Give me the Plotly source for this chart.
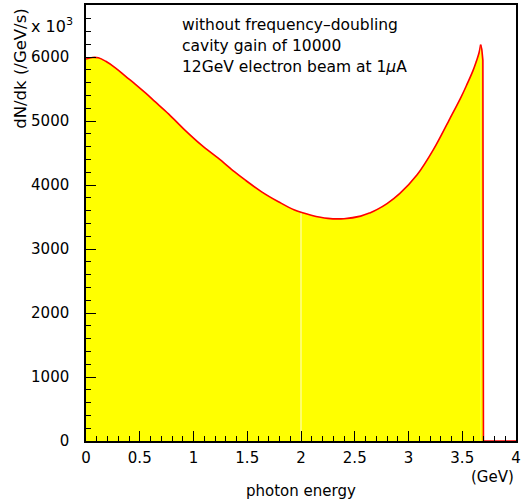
import numpy as np
import plotly.graph_objects as go

# photon energy (GeV) and dN/dk (/GeV/s, in units of 10^3) - smooth part up to the peak
energy = [0.0, 0.06, 0.115, 0.184, 0.276, 0.369, 0.46, 0.553, 0.645, 0.77, 0.92, 1.075,
          1.23, 1.38, 1.48, 1.634, 1.79, 1.94, 2.095, 2.25, 2.40, 2.555, 2.64, 2.71,
          2.80, 2.92, 3.08, 3.23, 3.385, 3.49, 3.54, 3.60, 3.63, 3.655, 3.671]
dndk = [5970, 5995, 5990, 5935, 5830, 5700, 5575, 5440, 5300, 5110, 4860, 4625,
        4420, 4210, 4080, 3895, 3740, 3610, 3530, 3480, 3475, 3515, 3565, 3620,
        3710, 3870, 4160, 4550, 5040, 5380, 5560, 5790, 5930, 6060, 6195]
# sharp cut-off after the peak
edge_energy = [3.671, 3.682, 3.692, 3.697, 3.8, 3.9, 4.0]
edge_dndk = [6195, 6120, 5950, 0, 0, 0, 0]

x_ticks = [0, 0.5, 1, 1.5, 2, 2.5, 3, 3.5, 4]
x_ticklabels = ["0", "0.5", "1", "1.5", "2", "2.5", "3", "3.5", "4"]
y_ticks = [0, 1000, 2000, 3000, 4000, 5000, 6000]
y_ticklabels = ["0", "1000", "2000", "3000", "4000", "5000", "6000"]

info_lines = ["without frequency\u2013doubling", "cavity gain of 10000",
              "12GeV electron beam at 1<i>\u03bc</i>A"]

FONT = "DejaVu Sans, Verdana, sans-serif"
W, H = 524, 504
ML, MR, MT, MB = 86, 3, 5, 63
PW, PH = W - ML - MR, H - MT - MB

def px2paper_x(px):
    return (px - ML) / PW

def px2paper_y(py):
    return (H - MB - py) / PH

fig = go.Figure()
for xs, ys, shape in [(energy, dndk, "spline"), (edge_energy, edge_dndk, "linear")]:
    fig.add_trace(go.Scatter(x=xs, y=ys, mode="lines", fill="tozeroy",
                             fillcolor="#ffff00",
                             line=dict(color="#ff0000", width=1.6, shape=shape, smoothing=1),
                             hoverinfo="skip", showlegend=False))
# faint seam in the fill at E = 2
e_seam = 2.0
fig.add_trace(go.Scatter(x=[e_seam, e_seam], y=[0, float(np.interp(e_seam, energy, dndk)) - 20],
                         mode="lines", line=dict(color="#ffffd0", width=1),
                         hoverinfo="skip", showlegend=False))

fig.update_layout(
    width=W, height=H, margin=dict(l=ML, r=MR, t=MT, b=MB),
    paper_bgcolor="white", plot_bgcolor="white",
    font=dict(family=FONT, size=15, color="black"),
    xaxis=dict(range=[0, 4], tickvals=x_ticks, ticktext=x_ticklabels,
               ticks="inside", ticklen=10, tickwidth=1, tickcolor="black",
               minor=dict(dtick=0.1, ticks="inside", ticklen=5, tickcolor="black"),
               showline=True, linecolor="black", linewidth=1.5, mirror=True,
               showgrid=False, zeroline=False, ticklabelstandoff=2),
    yaxis=dict(range=[0, 6815], tickvals=y_ticks, ticktext=y_ticklabels,
               ticks="inside", ticklen=10, tickwidth=1, tickcolor="black",
               minor=dict(dtick=200, ticks="inside", ticklen=5, tickcolor="black"),
               showline=True, linecolor="black", linewidth=1.5, mirror=True,
               showgrid=False, zeroline=False, ticklabelstandoff=12),
)

ann = []
for i, t in enumerate(info_lines):
    ann.append(dict(text=t, xref="paper", yref="paper", x=px2paper_x(181), y=px2paper_y(25 + 21 * i),
                    xanchor="left", yanchor="middle", showarrow=False, font=dict(size=15.5)))
ann.append(dict(text="x 10<sup>3</sup>", xref="paper", yref="paper", x=px2paper_x(28), y=px2paper_y(26),
                xanchor="left", yanchor="middle", showarrow=False, font=dict(size=16)))
ann.append(dict(text="dN/dk (/GeV/s)", xref="paper", yref="paper", x=px2paper_x(20), y=px2paper_y(7),
                xanchor="center", yanchor="top", textangle=-90, showarrow=False, font=dict(size=16.5)))
ann.append(dict(text="(GeV)", xref="paper", yref="paper", x=px2paper_x(521), y=px2paper_y(477),
                xanchor="right", yanchor="middle", showarrow=False, font=dict(size=15)))
ann.append(dict(text="photon energy", xref="paper", yref="paper", x=px2paper_x(304), y=px2paper_y(491),
                xanchor="center", yanchor="middle", showarrow=False, font=dict(size=15)))
fig.update_layout(annotations=ann)

fig.write_html("out.html")
